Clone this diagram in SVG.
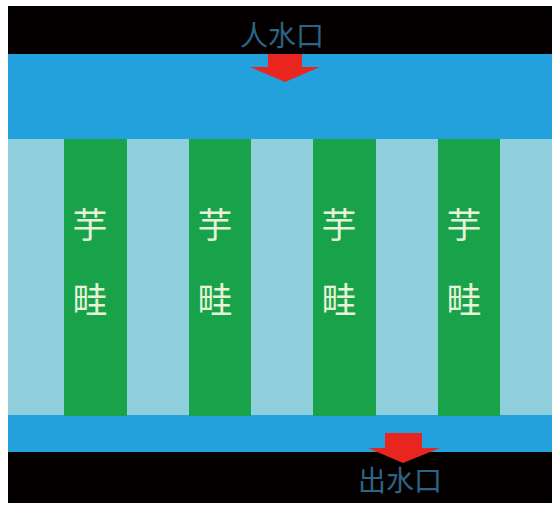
<svg xmlns="http://www.w3.org/2000/svg" width="552" height="506" viewBox="0 0 552 506">
<style>
.lbl{font-family:"Noto Sans CJK SC","Noto Sans CJK JP",sans-serif;font-size:28px;fill:#2b6585;text-anchor:middle}
.ridge{fill:#18a34b}
.rt{font-family:"Noto Sans CJK SC","Noto Sans CJK JP",sans-serif;font-size:35px;fill:#e6f3d8;text-anchor:middle}
.arrow{fill:#e8261f}
</style>
<rect x="0" y="0" width="552" height="506" fill="#ffffff"/>
<g id="field">
<rect x="8" y="6" width="544" height="49" fill="#050000"/>
<rect x="8" y="54" width="544" height="86" fill="#22a1dd"/>
<rect x="8" y="139" width="544" height="277" fill="#8fcfdc"/>
<rect x="8" y="415" width="544" height="37" fill="#22a1dd"/>
<rect x="8" y="452" width="544" height="51" fill="#050000"/>
</g>
<g id="ridge1"><rect class="ridge" x="64" y="139" width="63" height="277"/><text class="rt" x="90" y="238">芋</text><text class="rt" x="90" y="313">畦</text></g>
<g id="ridge2"><rect class="ridge" x="189" y="139" width="62" height="277"/><text class="rt" x="215" y="238">芋</text><text class="rt" x="215" y="313">畦</text></g>
<g id="ridge3"><rect class="ridge" x="313" y="139" width="63" height="277"/><text class="rt" x="339" y="238">芋</text><text class="rt" x="339" y="313">畦</text></g>
<g id="ridge4"><rect class="ridge" x="438" y="139" width="62" height="277"/><text class="rt" x="464" y="238">芋</text><text class="rt" x="464" y="313">畦</text></g>
<g id="inlet"><text class="lbl" x="282" y="46">人水口</text></g>
<g id="outlet"><text class="lbl" x="400" y="491">出水口</text></g>
<g id="connectors">
<polygon class="arrow" points="268,54 302,54 302,67 320,67 285,82 250,67 268,67"/>
<polygon class="arrow" points="385,433 422,433 422,448 440,448 403,463 368,448 385,448"/>
</g>
</svg>
